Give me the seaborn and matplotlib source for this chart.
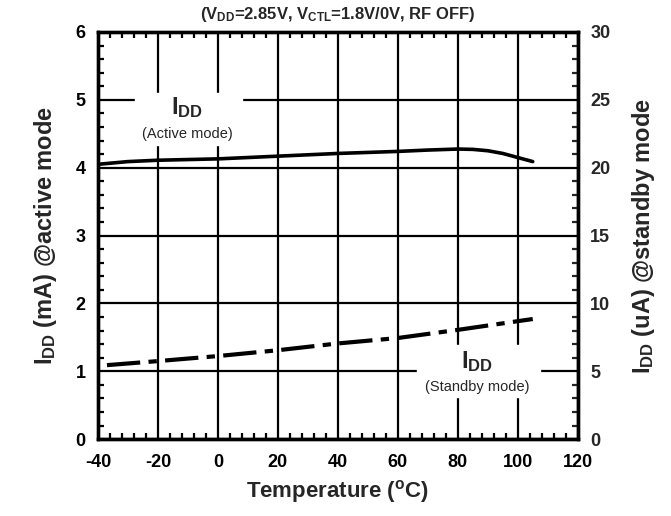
import numpy as np
import pandas as pd
import seaborn as sns
import matplotlib.pyplot as plt
from matplotlib.ticker import MultipleLocator
from matplotlib.patches import Rectangle

# datos
temp_active = [-40, -30, -20, 0, 20, 40, 60, 70, 80, 85, 90, 95, 100, 105]
idd_active = [4.05, 4.09, 4.11, 4.13, 4.17, 4.21, 4.24, 4.26, 4.275, 4.27, 4.25, 4.21, 4.15, 4.09]

temp_standby = [-37, -20, 0, 20, 40, 60, 80, 105]
idd_standby = [5.45, 5.75, 6.12, 6.55, 7.05, 7.45, 8.05, 8.85]

x_ticks = [-40, -20, 0, 20, 40, 60, 80, 100, 120]
left_ticks = [0, 1, 2, 3, 4, 5, 6]
right_ticks = [0, 5, 10, 15, 20, 25, 30]

title_txt = r'($\mathbf{V_{DD}}$=2.85V, $\mathbf{V_{CTL}}$=1.8V/0V, RF OFF)'
xlabel_txt = r'Temperature ($\mathbf{^{o}}$C)'
ylabel_left = r'$\mathbf{I_{DD}}$ (mA) @active mode'
ylabel_right = r'$\mathbf{I_{DD}}$ (uA) @standby mode'

sns.set_style('ticks')
plt.rcParams['font.family'] = ['Liberation Sans', 'DejaVu Sans']
plt.rcParams['mathtext.fontset'] = 'custom'
plt.rcParams['mathtext.rm'] = 'Liberation Sans'
plt.rcParams['mathtext.bf'] = 'Liberation Sans:bold'
plt.rcParams['mathtext.it'] = 'Liberation Sans:italic'
plt.rcParams['axes.unicode_minus'] = False

df_a = pd.DataFrame({'temp': temp_active, 'idd': idd_active})
df_s = pd.DataFrame({'temp': temp_standby, 'idd': idd_standby})

fig = plt.figure(figsize=(6.71, 5.16), dpi=100)
ax = fig.add_axes([0.146, 0.149, 0.715, 0.789])
ax2 = ax.twinx()

sns.lineplot(data=df_a, x='temp', y='idd', ax=ax, color='black', lw=2.6, zorder=3)
sns.lineplot(data=df_s, x='temp', y='idd', ax=ax2, color='black', lw=3,
             dashes=False, zorder=3)
ax2.lines[0].set_dashes((8, 2, 2, 2))

ax.set_xlim(-40, 120)
ax.set_ylim(0, 6)
ax2.set_ylim(0, 30)
ax.set_xticks(x_ticks)
ax.set_yticks(left_ticks)
ax2.set_yticks(right_ticks)
ax.xaxis.set_minor_locator(MultipleLocator(4))
ax.yaxis.set_minor_locator(MultipleLocator(0.2))
ax2.yaxis.set_minor_locator(MultipleLocator(1))

ax.set_axisbelow(True)
ax.grid(which='major', color='black', lw=1.6)

ax.tick_params(which='both', direction='in', top=True, right=False, width=1.6,
               labelsize=13, colors='black')
ax.tick_params(which='minor', length=4)
ax.tick_params(which='major', length=0)
ax.tick_params(axis='x', pad=11)
ax.tick_params(axis='y', pad=9)
ax2.tick_params(which='both', direction='in', width=1.6, labelsize=13, pad=9)
ax2.tick_params(which='minor', length=4)
ax2.tick_params(which='major', length=0)
for lab in ax.get_xticklabels() + ax.get_yticklabels() + ax2.get_yticklabels():
    lab.set_fontweight('bold')

for a in (ax, ax2):
    for s in a.spines.values():
        s.set_linewidth(2.4)
        s.set_color('black')

ax.set_xlabel(xlabel_txt, fontsize=16, fontweight='bold', labelpad=5)
ax.set_ylabel(ylabel_left, fontsize=17, fontweight='bold', labelpad=12)
ax2.set_ylabel(ylabel_right, fontsize=17, fontweight='bold', labelpad=14)
ax.set_title(title_txt, fontsize=12, fontweight='bold', pad=9)

# cajas blancas de las etiquetas
ax.add_patch(Rectangle((-27.7, 4.34), 35.7, 0.76, color='white', zorder=1.5))
ax.add_patch(Rectangle((66.3, 0.62), 41.0, 0.77, color='white', zorder=1.5))

ax.text(-10.3, 4.88, r'$\mathbf{I_{DD}}$', fontsize=17, ha='center', va='center', zorder=4)
ax.text(-10.3, 4.5, '(Active mode)', fontsize=10.5, ha='center', va='center', zorder=4)
ax.text(86.5, 1.15, r'$\mathbf{I_{DD}}$', fontsize=17, ha='center', va='center', zorder=4)
ax.text(86.5, 0.77, '(Standby mode)', fontsize=10.5, ha='center', va='center', zorder=4)

fig.savefig('out.png', dpi=100)
